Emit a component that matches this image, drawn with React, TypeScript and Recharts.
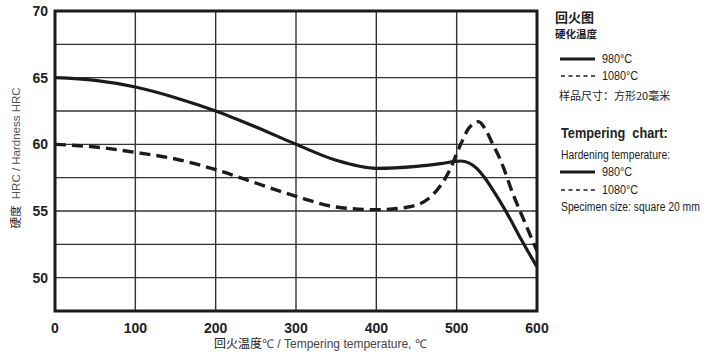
import { LineChart, Line, XAxis, YAxis, CartesianGrid, ReferenceArea } from "recharts";

// 980°C 淬火
const temps980 = [0, 50, 100, 150, 200, 250, 300, 350, 400, 450, 480, 505, 525, 536, 548, 562, 580, 600];
const hrc980 = [65, 64.8, 64.3, 63.5, 62.5, 61.3, 60, 58.8, 58.2, 58.35, 58.55, 58.75, 58.2, 57.4, 56.3, 54.9, 52.9, 50.8];

// 1080°C 淬火
const temps1080 = [0, 50, 100, 150, 200, 250, 300, 350, 400, 440, 470, 490, 505, 515, 527, 537, 545, 554, 570, 588, 600];
const hrc1080 = [60, 59.8, 59.4, 58.9, 58.1, 57.1, 56.1, 55.3, 55.1, 55.3, 56.2, 57.9, 60, 61.2, 61.7, 61.0, 60, 58.9, 56.3, 53.7, 52.0];

const xTicks = [0, 100, 200, 300, 400, 500, 600];
const yTicks = [47.5, 50, 52.5, 55, 57.5, 60, 62.5, 65, 67.5, 70];

const data980 = temps980.map((t, i) => ({ t, hrc: hrc980[i] }));
const data1080 = temps1080.map((t, i) => ({ t, hrc: hrc1080[i] }));

const INK = "#1b1b1b";
const tickStyle = { fontSize: 14, fontWeight: 700, fill: "#222", fontFamily: "'Liberation Sans', Arial, sans-serif" };
const latin = "'Liberation Sans', Arial, sans-serif";
const cjk = "'Noto Sans CJK SC', sans-serif";

function Swatch({ dashed, top }: { dashed?: boolean; top: number }) {
  return (
    <svg width={40} height={6} style={{ position: "absolute", left: 558, top: top - 3 }}>
      {dashed ? (
        <line x1={3} y1={3} x2={37} y2={3} stroke={INK} strokeWidth={1.6} strokeDasharray="4 3.5" />
      ) : (
        <line x1={2} y1={3} x2={37} y2={3} stroke={INK} strokeWidth={3.2} />
      )}
    </svg>
  );
}

// 图例文字：英文用压窄的字体模拟原图
function Txt({ top, left, size, children, bold, family, squeeze = 1 }: any) {
  const h = Math.ceil(size + 2);
  return (
    <div
      style={{
        position: "absolute",
        top: top - h / 2,
        left,
        height: h,
        lineHeight: `${h}px`,
        fontSize: size,
        fontWeight: bold ? 700 : 400,
        fontFamily: family,
        color: "#222",
        whiteSpace: "nowrap",
        transform: squeeze !== 1 ? `scaleX(${squeeze})` : undefined,
        transformOrigin: "left center",
      }}
    >
      {children}
    </div>
  );
}

export default function App() {
  return (
    <div style={{ position: "fixed", left: 0, top: 0, width: 720, height: 354, background: "#fff", overflow: "hidden" }}>
      <LineChart width={720} height={354} margin={{ top: 11, right: 183, left: 10, bottom: 13 }}>
        <CartesianGrid stroke="#333" strokeWidth={1.4} />
        <XAxis
          type="number"
          dataKey="t"
          domain={[0, 600]}
          ticks={xTicks}
          tick={tickStyle}
          tickLine={false}
          axisLine={false}
          tickSize={0}
          tickMargin={12}
          height={30}
          allowDuplicatedCategory={false}
        />
        <YAxis
          type="number"
          domain={[47.5, 70]}
          ticks={yTicks}
          tickFormatter={(v: number) => (v % 5 === 0 ? String(v) : "")}
          tick={tickStyle}
          tickLine={false}
          axisLine={false}
          tickSize={0}
          tickMargin={7}
          width={45}
          interval={0}
        />
        <Line data={data980} dataKey="hrc" type="monotone" stroke={INK} strokeWidth={3.2} dot={false} isAnimationActive={false} />
        <Line
          data={data1080}
          dataKey="hrc"
          type="monotone"
          stroke={INK}
          strokeWidth={3.4}
          strokeDasharray="11 6"
          dot={false}
          isAnimationActive={false}
        />
        <ReferenceArea x1={0} x2={600} y1={47.5} y2={70} fill="none" stroke={INK} strokeWidth={3} />
      </LineChart>

      <div
        style={{
          position: "absolute",
          left: 15,
          top: 158,
          transform: "translate(-50%, -50%) rotate(-90deg)",
          whiteSpace: "nowrap",
          fontSize: 11.5,
          fontFamily: latin,
          color: "#555",
        }}
      >
        <span style={{ fontFamily: cjk, color: "#222" }}>硬度</span>&nbsp;&nbsp;HRC / Hardness HRC
      </div>

      <div
        style={{
          position: "absolute",
          left: 214,
          top: 335,
          whiteSpace: "nowrap",
          fontSize: 12,
          lineHeight: "16px",
          fontFamily: latin,
          color: "#444",
        }}
      >
        <span style={{ fontFamily: cjk, color: "#222" }}>回火温度</span>℃ / Tempering temperature, ℃
      </div>

      <Txt top={16} left={555} size={13} bold family={cjk}>回火图</Txt>
      <Txt top={33} left={555} size={10.5} bold family={cjk}>硬化温度</Txt>
      <Swatch top={59} />
      <Txt top={59} left={602} size={12} family={latin} squeeze={0.9}>980°C</Txt>
      <Swatch top={76} dashed />
      <Txt top={76} left={602} size={12} family={latin} squeeze={0.9}>1080°C</Txt>
      <Txt top={95} left={559} size={11} family={cjk}>样品尺寸：方形20毫米</Txt>

      <Txt top={132} left={561} size={15} bold family={latin} squeeze={0.85}>Tempering&nbsp; chart:</Txt>
      <Txt top={155} left={561} size={12} family={latin} squeeze={0.86}>Hardening temperature:</Txt>
      <Swatch top={172} />
      <Txt top={172} left={602} size={12} family={latin} squeeze={0.9}>980°C</Txt>
      <Swatch top={190} dashed />
      <Txt top={190} left={602} size={12} family={latin} squeeze={0.9}>1080°C</Txt>
      <Txt top={207} left={561} size={12} family={latin} squeeze={0.86}>Specimen size: square 20 mm</Txt>
    </div>
  );
}
